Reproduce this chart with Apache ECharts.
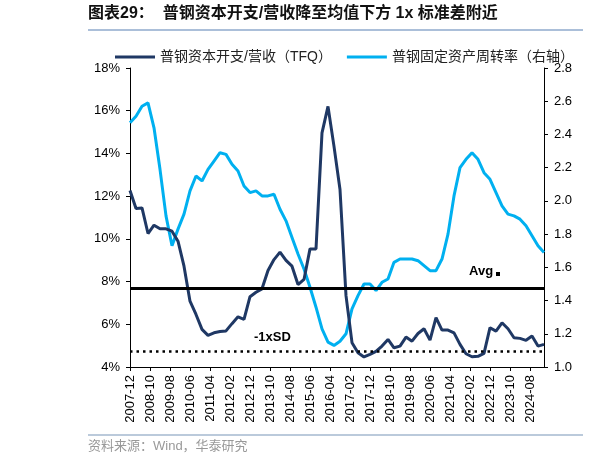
<!DOCTYPE html>
<html>
<head>
<meta charset="utf-8">
<script src="https://cdn.jsdelivr.net/npm/echarts@6/dist/echarts.min.js"></script>
<style>
html,body{margin:0;padding:0;background:#fff;}
#chart{width:616px;height:465px;}
</style>
</head>
<body>
<div id="chart"></div>
<script>
// Monthly category axis: 2007-12 .. 2025-03
const startYear = 2007, startMonth = 12, monthCount = 208;
// Quarterly observations (every 3rd month from 2007-12)
const capexRatio = [12.26,11.42,11.45,10.25,10.64,10.47,10.47,10.36,9.89,8.72,
  7.08,6.46,5.76,5.48,5.60,5.66,5.69,6.03,6.35,6.23,
  7.29,7.50,7.66,8.52,9.03,9.38,8.99,8.72,7.86,8.10,
  9.53,9.53,14.96,16.20,14.33,12.31,7.34,5.14,4.67,4.47,
  4.59,4.73,4.98,5.29,4.90,4.98,5.40,5.21,5.57,5.79,
  5.26,6.31,5.73,5.73,5.60,5.06,4.62,4.48,4.50,4.64,
  5.84,5.68,6.07,5.79,5.37,5.34,5.25,5.45,4.98,5.06];
const assetTurnover = [2.47,2.51,2.57,2.59,2.44,2.19,1.91,1.73,1.83,1.92,
  2.06,2.15,2.12,2.19,2.24,2.29,2.28,2.22,2.18,2.09,
  2.05,2.06,2.03,2.03,2.04,1.95,1.88,1.78,1.68,1.59,
  1.48,1.36,1.23,1.15,1.13,1.155,1.20,1.35,1.43,1.50,
  1.50,1.46,1.51,1.53,1.63,1.65,1.65,1.65,1.64,1.61,
  1.58,1.58,1.65,1.80,2.03,2.20,2.25,2.29,2.25,2.17,
  2.13,2.05,1.97,1.92,1.91,1.89,1.85,1.79,1.73,1.69];
const avgValue = 7.67;
const minusSdValue = 4.72;
const seriesNames = ['普钢资本开支/营收（TFQ）','普钢固定资产周转率（右轴）'];
const leftTicks = {min:4, max:18, interval:2};
const rightTicks = {min:1.0, max:2.8, interval:0.2};

const categories = [];
for (let i = 0; i < monthCount; i++) {
  const m0 = startMonth - 1 + i;
  const y = startYear + Math.floor(m0 / 12);
  const m = (m0 % 12) + 1;
  categories.push(y + '-' + (m < 10 ? '0' + m : m));
}
function toMonthly(q) {
  const arr = new Array(monthCount).fill(null);
  q.forEach((v, i) => { if (i * 3 < monthCount) arr[i * 3] = v; });
  return arr;
}

const latin = '"Liberation Sans", Arial, "Noto Sans CJK SC", sans-serif';
const cjk = '"Liberation Sans", "Noto Sans CJK SC", sans-serif';

const chart = echarts.init(document.getElementById('chart'), null, {renderer:'canvas'});
chart.setOption({
  animation:false,
  backgroundColor:'#fff',
  grid:{left:130, right:72, top:68, bottom:98, containLabel:false},
  legend:{
    left:110, top:45, itemWidth:40, itemGap:15,
    icon:'rect', itemHeight:3,
    textStyle:{fontFamily:cjk, fontSize:14, color:'#222'},
    data:seriesNames
  },
  xAxis:{
    type:'category', data:categories, boundaryGap:false,
    axisLine:{lineStyle:{color:'#000', width:1}},
    axisTick:{interval:9, length:4, lineStyle:{color:'#000'}},
    axisLabel:{interval:9, rotate:90, fontFamily:latin, fontSize:13, color:'#000', margin:8}
  },
  yAxis:[{
    type:'value', min:leftTicks.min, max:leftTicks.max, interval:leftTicks.interval,
    axisLine:{show:true, lineStyle:{color:'#000'}},
    axisTick:{show:true, length:4, lineStyle:{color:'#000'}},
    splitLine:{show:false},
    axisLabel:{formatter:'{value}%', fontFamily:latin, fontSize:13, color:'#000', margin:10}
  },{
    type:'value', min:rightTicks.min, max:rightTicks.max, interval:rightTicks.interval,
    position:'right',
    axisLine:{show:true, lineStyle:{color:'#000'}},
    axisTick:{show:true, length:4, lineStyle:{color:'#000'}},
    splitLine:{show:false},
    axisLabel:{formatter:v => v.toFixed(1), fontFamily:latin, fontSize:13, color:'#000', margin:10}
  }],
  series:[{
    name:seriesNames[0], type:'line', yAxisIndex:0, data:toMonthly(capexRatio),
    connectNulls:true, showSymbol:false, symbol:'none',
    lineStyle:{color:'#1F3864', width:3}, itemStyle:{color:'#1F3864'},
    z:3,
    markLine:{
      silent:true, symbol:'none', label:{show:false},
      data:[
        {yAxis:avgValue, lineStyle:{color:'#000', width:3, type:'solid'}},
        {yAxis:minusSdValue, lineStyle:{color:'#000', width:2.5, type:[2.5,4]}}
      ]
    }
  },{
    name:seriesNames[1], type:'line', yAxisIndex:1, data:toMonthly(assetTurnover),
    connectNulls:true, showSymbol:false, symbol:'none',
    lineStyle:{color:'#00B0F0', width:3}, itemStyle:{color:'#00B0F0'},
    z:2
  }],
  graphic:[
    {type:'text', left:88, top:6, style:{text:'图表29：  普钢资本开支/营收降至均值下方 1x 标准差附近', font:'bold 16px "Liberation Sans", "Noto Sans CJK SC", sans-serif', fill:'#111'}},
    {type:'line', shape:{x1:88, y1:30, x2:583, y2:30}, style:{stroke:'#8FAACC', lineWidth:1.5}},
    {type:'line', shape:{x1:88, y1:435, x2:583, y2:435}, style:{stroke:'#BBCADB', lineWidth:2}},
    {type:'text', left:88, top:440, style:{text:'资料来源：Wind，华泰研究', font:'13px "Liberation Sans", "Noto Sans CJK SC", sans-serif', fill:'#999'}},
    {type:'text', left:469, top:265, style:{text:'Avg', font:'bold 13px "Liberation Sans", Arial, sans-serif', fill:'#000'}},
    {type:'rect', shape:{x:496, y:272, width:4, height:4}, style:{fill:'#000'}},
    {type:'text', left:254, top:331, style:{text:'-1xSD', font:'bold 13px "Liberation Sans", Arial, sans-serif', fill:'#000'}}
  ]
});
</script>
</body>
</html>
